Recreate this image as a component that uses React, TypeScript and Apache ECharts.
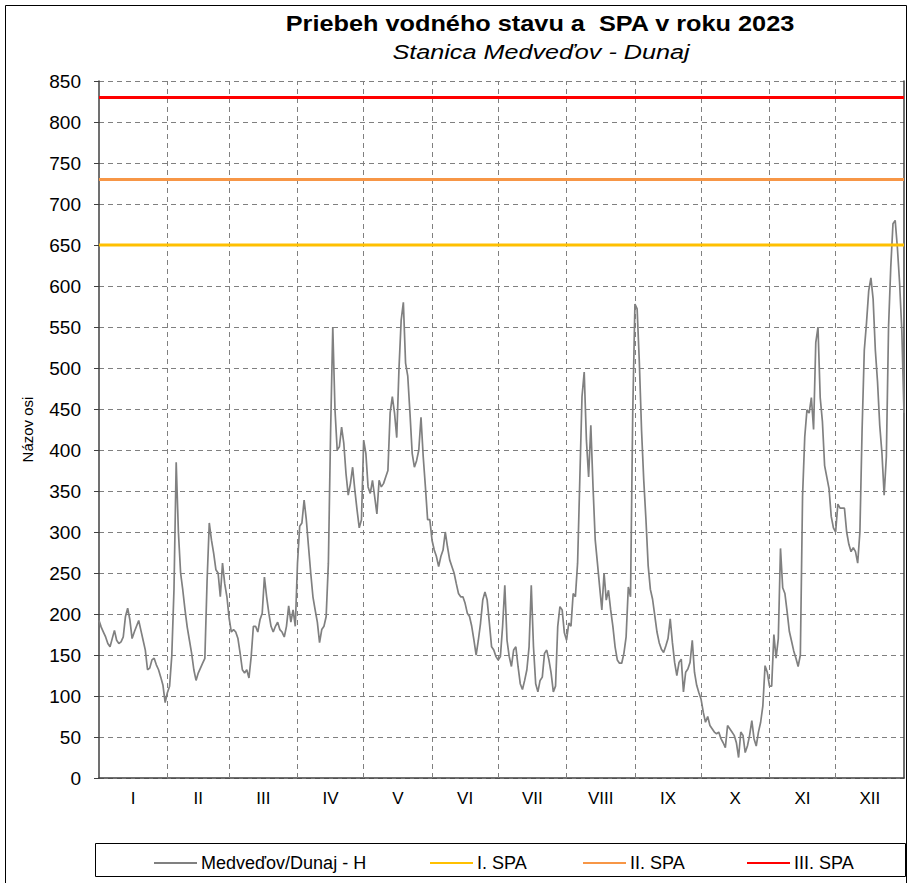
import React, { useEffect, useRef } from "react";
import * as echarts from "echarts";

const monthLabels = ["I", "II", "III", "IV", "V", "VI", "VII", "VIII", "IX", "X", "XI", "XII"];
const monthStarts = [31, 59, 90, 120, 151, 181, 212, 243, 273, 304, 334];
const monthMids = [15.5, 45, 74.5, 105, 135.5, 166, 196.5, 227.5, 258, 288.5, 319, 349.5];

const jan = [192, 184, 178, 172, 164, 160, 170, 180, 168, 164, 166, 172, 197, 207, 193, 170, 178, 185, 192, 180, 168, 156, 132, 134, 144, 146, 138, 132, 123, 113, 92];
const feb = [104, 112, 149, 230, 385, 300, 250, 229, 205, 184, 168, 152, 132, 119, 128, 134, 140, 146, 240, 311, 290, 274, 254, 250, 221, 262, 237, 221];
const mar = [195, 178, 181, 178, 170, 152, 132, 128, 132, 122, 148, 185, 185, 178, 193, 201, 245, 221, 201, 185, 178, 185, 190, 181, 178, 172, 185, 210, 190, 205, 185];
const apr = [262, 307, 311, 339, 315, 282, 250, 221, 205, 190, 165, 181, 185, 197, 262, 420, 550, 449, 400, 404, 428, 408, 371, 345, 359, 379, 351, 327, 305, 315];
const may = [412, 396, 355, 347, 363, 343, 322, 363, 355, 359, 367, 375, 445, 465, 445, 415, 498, 558, 580, 506, 490, 445, 396, 379, 387, 400, 440, 392, 355, 315, 315];
const jun = [290, 278, 270, 258, 270, 278, 300, 282, 266, 258, 250, 237, 225, 221, 221, 213, 201, 197, 185, 168, 150, 168, 189, 217, 227, 217, 189, 160, 156, 148];
const jul = [144, 148, 185, 235, 168, 148, 136, 156, 160, 136, 115, 108, 119, 132, 160, 235, 160, 115, 105, 119, 123, 152, 156, 144, 128, 105, 112, 185, 209, 205, 177];
const aug = [168, 189, 185, 225, 221, 262, 363, 465, 495, 412, 367, 430, 355, 290, 262, 233, 205, 250, 217, 229, 205, 185, 160, 144, 140, 140, 152, 172, 233, 221, 445];
const sep = [578, 572, 507, 424, 363, 315, 259, 230, 218, 198, 178, 165, 157, 153, 161, 170, 194, 165, 141, 125, 141, 145, 105, 129, 133, 141, 168, 129, 113, 104];
const oct = [96, 80, 68, 75, 64, 60, 56, 54, 56, 48, 43, 37, 64, 60, 56, 52, 43, 25, 56, 52, 31, 39, 52, 70, 48, 39, 56, 68, 88, 137, 129];
const nov = [112, 112, 175, 146, 170, 280, 232, 225, 203, 179, 167, 155, 146, 136, 150, 343, 416, 449, 445, 464, 425, 531, 550, 464, 435, 381, 367, 353, 319, 305];
const dec = [300, 334, 329, 329, 329, 300, 285, 276, 281, 276, 262, 300, 425, 522, 555, 594, 610, 584, 522, 483, 430, 396, 345, 392, 551, 623, 676, 680, 647, 604, 546, 445];

const spaNames = ["I. SPA", "II. SPA", "III. SPA"];
const spaLevels = [650, 730, 830];
const spaColors = ["#FFC000", "#F79646", "#FF0000"];
const seriesName = "Medveďov/Dunaj - H";
const legendNames = [seriesName, ...spaNames];

const FONT = "Liberation Sans, Arial, sans-serif";

export default function App() {
  const ref = useRef<HTMLDivElement>(null);
  useEffect(() => {
    const chart = echarts.init(ref.current!, undefined, { renderer: "svg" });
    const all = [...jan, ...feb, ...mar, ...apr, ...may, ...jun, ...jul, ...aug, ...sep, ...oct, ...nov, ...dec];
    const hData = all.map((v, i) => [i, v]);
    const legendLefts = [148, 424, 577, 741];
    chart.setOption({
      animation: false,
      backgroundColor: "#ffffff",
      textStyle: { fontFamily: FONT },
      grid: { left: 99, right: 4, top: 81, bottom: 105, containLabel: false },
      graphic: [
        {
          type: "rect",
          shape: { x: 5.5, y: 5.5, width: 901, height: 900 },
          style: { fill: "none", stroke: "#000", lineWidth: 1 },
          silent: true,
        },
        {
          type: "text",
          x: 540,
          y: 13,
          scaleX: 1.15,
          style: {
            text: "Priebeh vodného stavu a  SPA v roku 2023",
            fontFamily: FONT,
            fontWeight: "bold",
            fontSize: 22,
            fill: "#000",
            textAlign: "center",
            textVerticalAlign: "top",
          },
        },
        {
          type: "text",
          x: 541,
          y: 41,
          scaleX: 1.2,
          style: {
            text: "Stanica Medveďov - Dunaj",
            fontFamily: FONT,
            fontStyle: "italic",
            fontSize: 21,
            fill: "#000",
            textAlign: "center",
            textVerticalAlign: "top",
          },
        },
        {
          type: "rect",
          shape: { x: 95.5, y: 843.5, width: 810, height: 33 },
          style: { fill: "none", stroke: "#000", lineWidth: 1 },
          silent: true,
        },
      ],
      legend: legendNames.map((n, k) => ({
        data: [n],
        left: legendLefts[k],
        top: 849,
        itemWidth: 43,
        itemHeight: 14,
        itemStyle: { opacity: 0 },
        textStyle: { fontFamily: FONT, fontSize: 18, color: "#000", padding: [0, 0, 0, -1] },
      })),
      xAxis: {
        type: "value",
        min: 0,
        max: 365,
        axisLine: { show: true, lineStyle: { color: "#404040", width: 1.5 } },
        axisTick: { show: false },
        splitLine: { show: false },
        axisLabel: {
          show: true,
          customValues: monthMids,
          margin: 12,
          fontFamily: FONT,
          fontSize: 17,
          color: "#000",
          formatter: (v: number) => {
            const i = monthMids.indexOf(v);
            return i >= 0 ? monthLabels[i] : "";
          },
        },
      },
      yAxis: [
        {
          type: "value",
          min: 0,
          max: 850,
          interval: 50,
          name: "Názov osi",
          nameLocation: "middle",
          nameRotate: 90,
          nameGap: 64,
          nameTextStyle: { fontFamily: FONT, fontSize: 15, color: "#000" },
          axisLine: { show: true, lineStyle: { color: "#404040", width: 1.5 } },
          axisTick: { show: true, inside: false, length: 5, lineStyle: { color: "#404040" } },
          axisLabel: { margin: 18, fontFamily: FONT, fontSize: 19, color: "#000" },
          splitLine: { show: true, lineStyle: { color: "#808080", type: [5, 4], width: 1 } },
        },
        {
          type: "value",
          min: 0,
          max: 850,
          interval: 50,
          position: "right",
          axisLine: { show: true, onZero: false, lineStyle: { color: "#404040", width: 1.5 } },
          axisTick: { show: false },
          axisLabel: { show: false },
          splitLine: { show: false },
        },
      ],
      series: [
        {
          name: seriesName,
          type: "line",
          data: hData,
          symbol: "none",
          showSymbol: false,
          z: 3,
          lineStyle: { color: "#808080", width: 1.7 },
          itemStyle: { color: "#808080" },
          markLine: {
            silent: true,
            symbol: "none",
            z: 1,
            label: { show: false },
            lineStyle: { color: "#808080", type: [5, 4], width: 1 },
            data: monthStarts.map((d) => ({ xAxis: d })),
          },
        },
        ...spaNames.map((n, k) => ({
          name: n,
          type: "line",
          data: [
            [0, spaLevels[k]],
            [365, spaLevels[k]],
          ],
          symbol: "none",
          showSymbol: false,
          z: 4,
          lineStyle: { color: spaColors[k], width: 3 },
          itemStyle: { color: spaColors[k] },
        })),
      ],
    });
    return () => chart.dispose();
  }, []);
  return (
    <div
      ref={ref}
      style={{ position: "fixed", left: 0, top: 0, width: 908, height: 883 }}
    />
  );
}
